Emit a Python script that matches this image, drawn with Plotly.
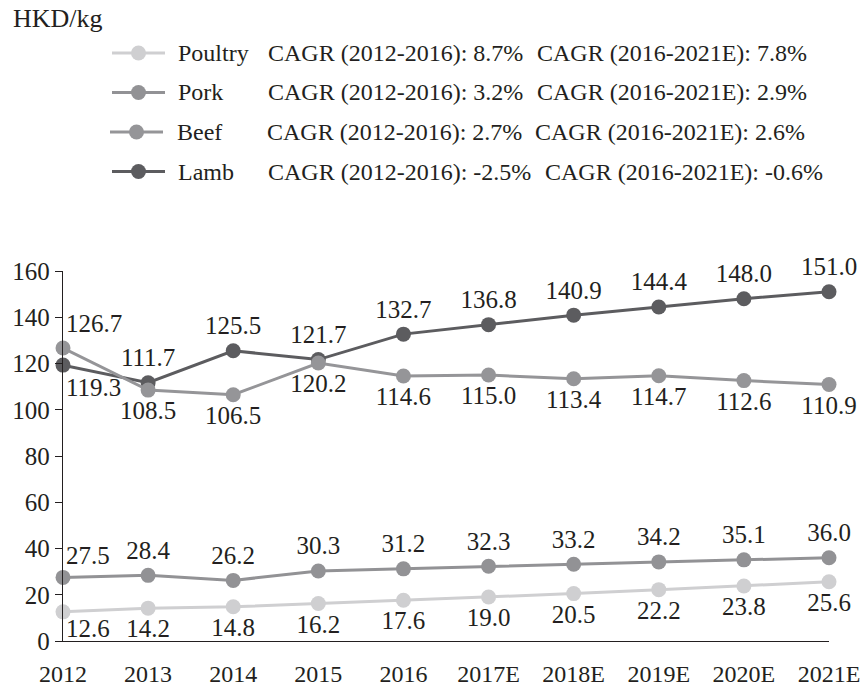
import plotly.graph_objects as go

# ---------------- data ----------------
years = ["2012", "2013", "2014", "2015", "2016", "2017E", "2018E", "2019E", "2020E", "2021E"]
poultry = [12.6, 14.2, 14.8, 16.2, 17.6, 19.0, 20.5, 22.2, 23.8, 25.6]
pork = [27.5, 28.4, 26.2, 30.3, 31.2, 32.3, 33.2, 34.2, 35.1, 36.0]
beef = [126.7, 108.5, 106.5, 120.2, 114.6, 115.0, 113.4, 114.7, 112.6, 110.9]
lamb = [119.3, 111.7, 125.5, 121.7, 132.7, 136.8, 140.9, 144.4, 148.0, 151.0]

series_names = ["Poultry", "Pork", "Beef", "Lamb"]
cagr_2012_2016 = ["8.7%", "3.2%", "2.7%", "-2.5%"]
cagr_2016_2021 = ["7.8%", "2.9%", "2.6%", "-0.6%"]
y_ticks = [0, 20, 40, 60, 80, 100, 120, 140, 160]
unit_label = "HKD/kg"

# ---------------- style ----------------
FONT = "Liberation Serif"
TXT = "#231f20"
colors = {"Poultry": "#cfcfd1", "Pork": "#929295", "Beef": "#959598", "Lamb": "#5c5c5f"}
W, H = 860, 689
L, R, T, B = 63, 31, 271, 48
PW, PH = W - L - R, H - T - B


def px(x):
    return (x - L) / PW


def py(y):
    return (H - B - y) / PH


fig = go.Figure()

series = {"Poultry": poultry, "Pork": pork, "Beef": beef, "Lamb": lamb}
first_shift = {"Poultry": -17, "Pork": 22, "Beef": 25, "Lamb": -22}
rest_above = {"Poultry": False, "Pork": True, "Beef": False, "Lamb": True}
annotations = []
for name in ["Lamb", "Beef", "Pork", "Poultry"]:
    vals = series[name]
    pos = ["top center" if rest_above[name] else "bottom center"] * len(vals)
    labels = [f"{v:.1f}" for v in vals]
    first_label = labels[0]
    labels[0] = ""
    fig.add_trace(go.Scatter(
        x=years, y=vals, name=name, mode="lines+markers+text",
        line=dict(color=colors[name], width=3),
        marker=dict(color=colors[name], size=15),
        text=labels, textposition=pos,
        textfont=dict(family=FONT, size=25, color=TXT),
        cliponaxis=False, showlegend=False, hoverinfo="skip",
    ))
    annotations.append(dict(
        x=0, y=vals[0], xref="x", yref="y", text=first_label, showarrow=False,
        xanchor="left", yanchor="middle", xshift=1, yshift=first_shift[name],
        font=dict(family=FONT, size=25, color=TXT)))

# ---------------- custom legend ----------------
shapes = []
row_y = [53, 92.5, 132, 171.5]
line_x0 = [112, 112, 110, 112]
name_x = [176, 176, 175, 176]
cagr1_x = [266, 266, 265, 266]
cagr2_x = [535, 535, 533, 543]
for i, name in enumerate(series_names):
    yy = row_y[i]
    lx = line_x0[i]
    shapes.append(dict(type="line", xref="paper", yref="paper",
                       x0=px(lx), x1=px(lx + 53), y0=py(yy), y1=py(yy),
                       line=dict(color=colors[name], width=3)))
    shapes.append(dict(type="circle", xref="paper", yref="paper",
                       x0=px(lx + 19), x1=px(lx + 34), y0=py(yy + 7.5), y1=py(yy - 7.5),
                       fillcolor=colors[name], line=dict(width=0)))
    annotations.append(dict(xref="paper", yref="paper", x=px(name_x[i]), y=py(yy),
                            xanchor="left", yanchor="middle", showarrow=False,
                            text=name, font=dict(family=FONT, size=24, color=TXT)))
    annotations.append(dict(xref="paper", yref="paper", x=px(cagr1_x[i]), y=py(yy),
                            xanchor="left", yanchor="middle", showarrow=False,
                            text=f"CAGR (2012-2016): {cagr_2012_2016[i]}",
                            font=dict(family=FONT, size=24, color=TXT)))
    annotations.append(dict(xref="paper", yref="paper", x=px(cagr2_x[i]), y=py(yy),
                            xanchor="left", yanchor="middle", showarrow=False,
                            text=f"CAGR (2016-2021E): {cagr_2016_2021[i]}",
                            font=dict(family=FONT, size=24, color=TXT)))

annotations.append(dict(xref="paper", yref="paper", x=px(11), y=py(18),
                        xanchor="left", yanchor="middle", showarrow=False,
                        text=unit_label, font=dict(family=FONT, size=26, color=TXT)))

fig.update_layout(
    width=W, height=H, autosize=False,
    margin=dict(l=L, r=R, t=T, b=B, pad=0),
    paper_bgcolor="white", plot_bgcolor="white",
    font=dict(family=FONT, size=24, color=TXT),
    showlegend=False, hovermode=False,
    shapes=shapes, annotations=annotations,
    xaxis=dict(type="category", range=[0, len(years) - 1], showline=True,
               linecolor=TXT, linewidth=1.3, ticks="", showgrid=False, zeroline=False,
               ticklabelstandoff=11, automargin=False,
               tickfont=dict(family=FONT, size=24, color=TXT), fixedrange=True),
    yaxis=dict(range=[0, 160], tickvals=y_ticks, showline=True, linecolor=TXT,
               linewidth=1.3, ticks="outside", ticklen=7, tickwidth=1.3, tickcolor=TXT,
               showgrid=False, zeroline=False, automargin=False,
               tickfont=dict(family=FONT, size=25, color=TXT), fixedrange=True),
)

fig.write_html("out.html", config={"displayModeBar": False},
               post_script="document.body.style.margin='0';")
